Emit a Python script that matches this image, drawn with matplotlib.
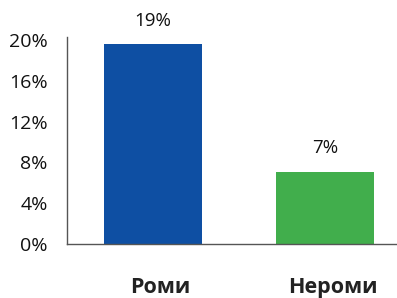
import matplotlib.pyplot as plt

plt.rcParams['font.family'] = ['Open Sans', 'DejaVu Sans']

categories = ['Роми', 'Нероми']
values = [19.6, 7.1]
value_labels = ['19%', '7%']
bar_colors = ['#0e4fa3', '#41ae4c']
y_ticks = [0, 4, 8, 12, 16, 20]

fig = plt.figure(figsize=(3.97, 2.98), dpi=100)
ax = fig.add_axes([0.169, 0.181, 0.831, 0.695])

x = range(len(categories))
ax.bar(x, values, width=0.57, color=bar_colors)

for xi, v, lab in zip(x, values, value_labels):
    ax.text(xi, v + 2.3, lab, ha='center', va='center', fontsize=13.5, color='#111111')

ax.set_xlim(-0.5, 1.42)
ax.set_ylim(0, 20.3)
ax.set_yticks(y_ticks)
ax.set_yticklabels([f'{t}%' for t in y_ticks], fontsize=14, color='#111111')
ax.tick_params(axis='y', length=0, pad=14)
ax.set_xticks([])

for xi, c in zip(x, categories):
    ax.text(xi + 0.045, -4.3, c, ha='center', va='center', fontsize=15.5,
            fontweight='bold', color='#222222')

ax.spines['top'].set_visible(False)
ax.spines['right'].set_visible(False)
for s in ('left', 'bottom'):
    ax.spines[s].set_color('#555555')
    ax.spines[s].set_linewidth(1.0)

fig.savefig('out.png', dpi=100)
